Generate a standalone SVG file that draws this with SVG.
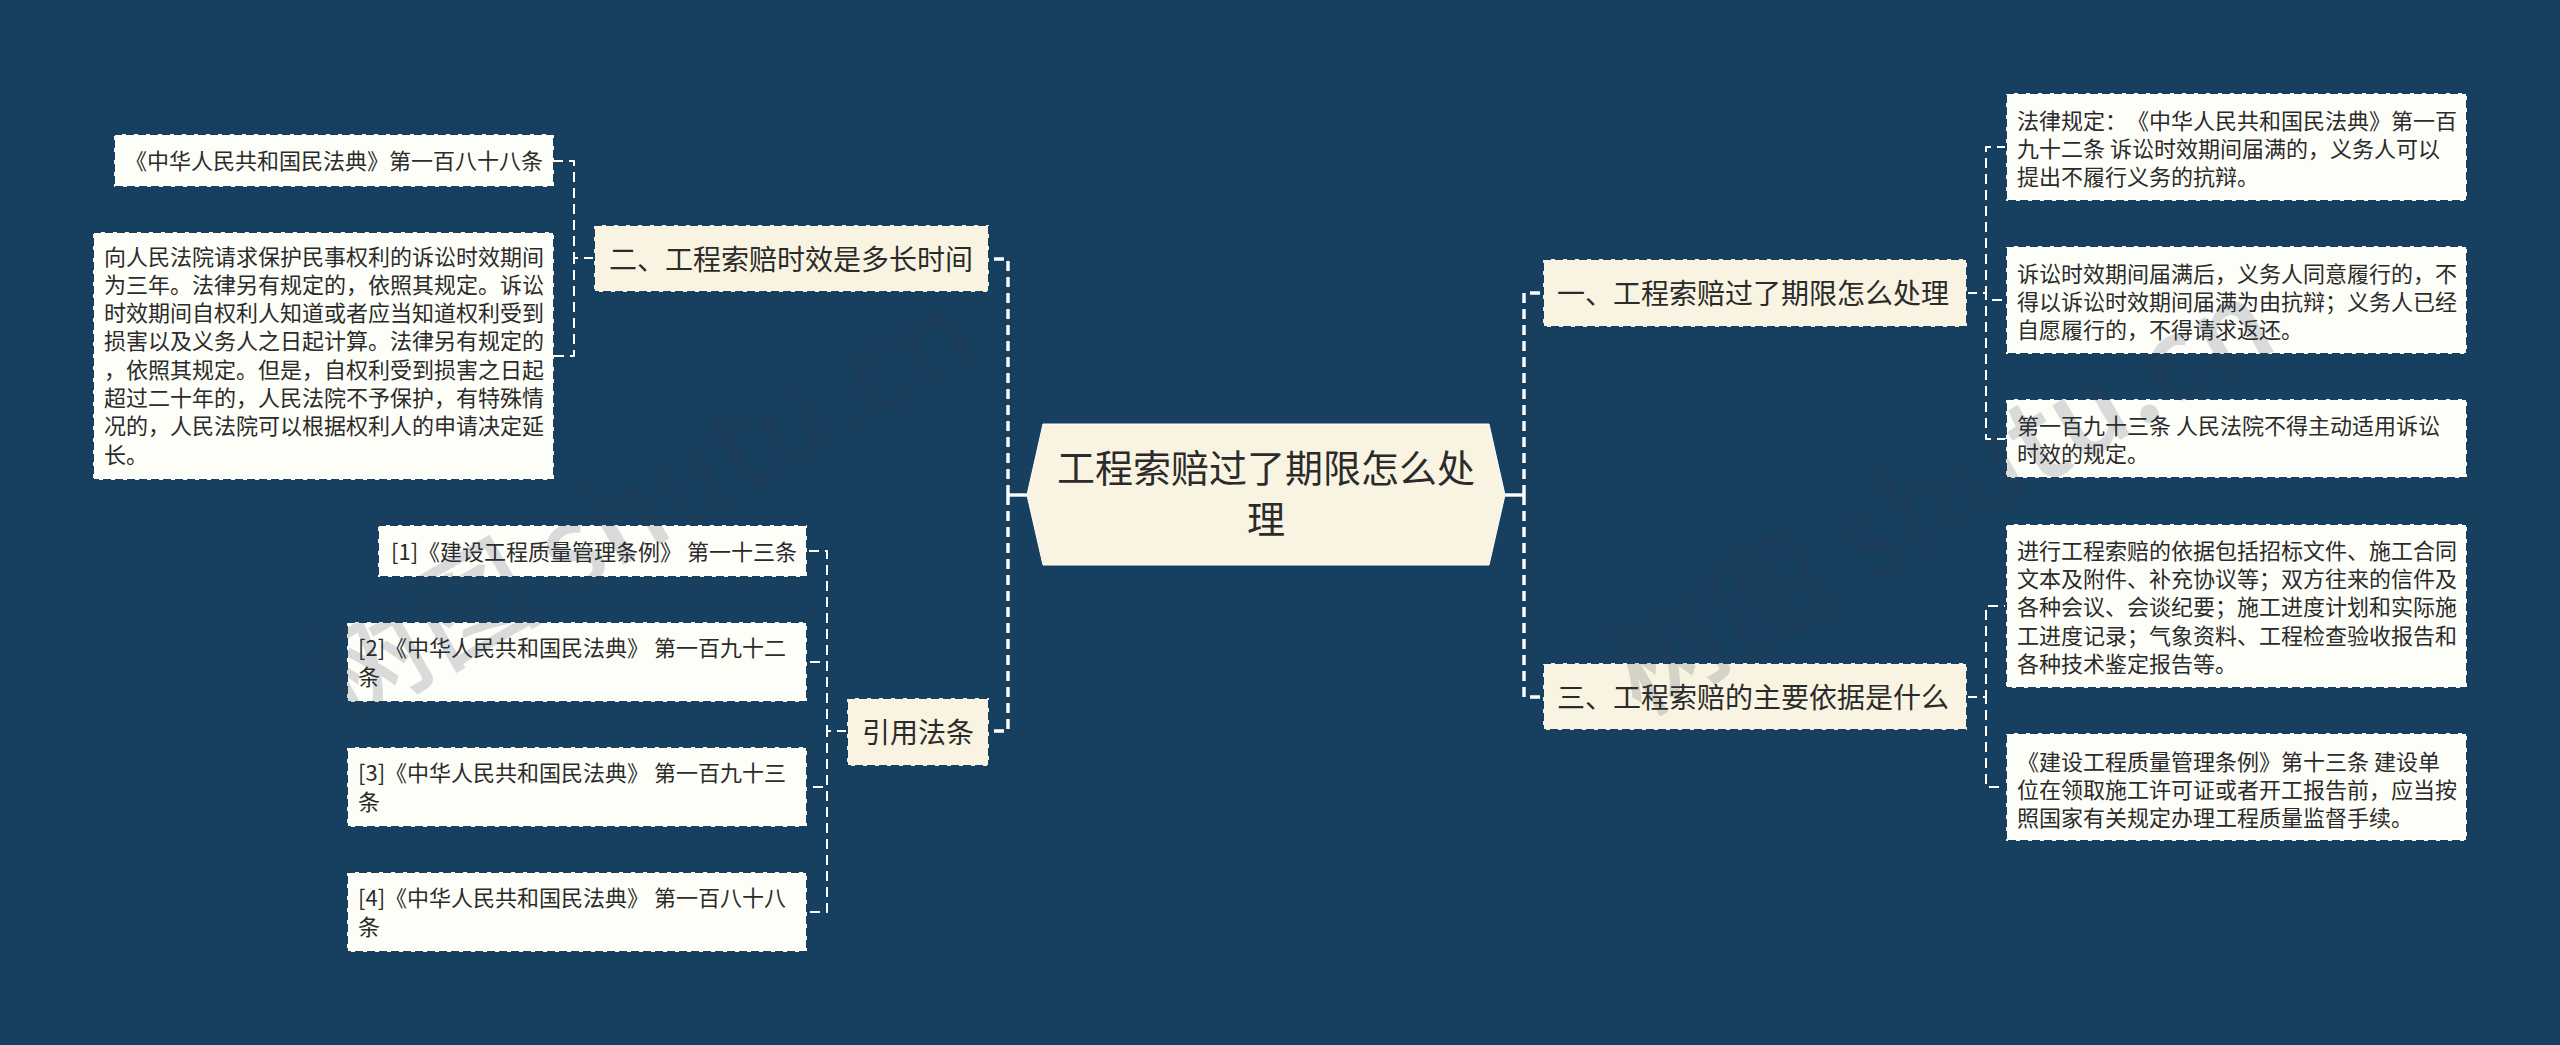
<svg xmlns="http://www.w3.org/2000/svg" width="2560" height="1045" viewBox="0 0 2560 1045">
<style>
text{font-family:"Noto Sans CJK SC","Noto Sans",sans-serif;fill:#2b2b2b;text-spacing-trim:space-all}
.leaf rect{fill:#fefef8;stroke:#173f5f;stroke-width:2;stroke-dasharray:8 4}
.branch rect{fill:#f9f4e1;stroke:#173f5f;stroke-width:2;stroke-dasharray:8 4}
.leaf text{font-size:22px}
.branch text{font-size:28px}
#root polygon{fill:#f9f4e1;stroke:#fff;stroke-width:1}
#root text{font-size:38px;text-anchor:middle}
#connectors path{fill:none;stroke:#fff;stroke-linejoin:round}
.c1{stroke-width:3.4;stroke-dasharray:10 6}
.c2{stroke-width:2;stroke-dasharray:10 6}
.c0{stroke-width:3.4}
.wm{font-size:116px;font-weight:500;fill:#2a3f55;fill-opacity:.18}
</style>
<rect width="2560" height="1045" fill="#173f5f"/>
<g id="connectors">
<path class="c0" d="M1505 495H1524"/>
<path class="c0" d="M1027 495H1008"/>
<path class="c1" d="M1524 495V293H1543"/>
<path class="c1" d="M1524 495V697H1543"/>
<path class="c1" d="M1008 495V259H989"/>
<path class="c1" d="M1008 495V731H988"/>
<path class="c2" d="M1967 293H1986V147H2006"/>
<path class="c2" d="M1967 293H1986V300H2006"/>
<path class="c2" d="M1967 293H1986V439H2006"/>
<path class="c2" d="M1967 697H1986V606H2006"/>
<path class="c2" d="M1967 697H1986V787H2006"/>
<path class="c2" d="M594 258H574V161H554"/>
<path class="c2" d="M594 258H574V356H554"/>
<path class="c2" d="M847 731H827V551H807"/>
<path class="c2" d="M847 731H827V662H807"/>
<path class="c2" d="M847 731H827V787H807"/>
<path class="c2" d="M847 731H827V912H807"/>
</g>
<g id="root">
<polygon points="1027,495 1043,424 1489,424 1505,495 1489,565 1043,565"/>
<text><tspan x="1266" y="482">工程索赔过了期限怎么处</tspan><tspan x="1266" y="533">理</tspan></text>
</g>
<g id="branch1" class="branch"><rect x="1543" y="259" width="424" height="68"/><text x="1557" y="304">一、工程索赔过了期限怎么处理</text></g>
<g id="branch3" class="branch"><rect x="1543" y="663" width="424" height="67"/><text x="1557" y="708">三、工程索赔的主要依据是什么</text></g>
<g id="branch2" class="branch"><rect x="594" y="225" width="395" height="67"/><text x="609" y="270">二、工程索赔时效是多长时间</text></g>
<g id="branch4" class="branch"><rect x="847" y="698" width="142" height="68"/><text x="862" y="743">引用法条</text></g>
<g id="leaf1" class="leaf"><rect x="2006" y="93" width="461" height="108"/><text><tspan x="2017" y="129">法律规定：《中华人民共和国民法典》第一百</tspan><tspan x="2017" y="157">九十二条 诉讼时效期间届满的，义务人可以</tspan><tspan x="2017" y="185">提出不履行义务的抗辩。</tspan></text></g>
<g id="leaf2" class="leaf"><rect x="2006" y="246" width="461" height="108"/><text><tspan x="2017" y="282">诉讼时效期间届满后，义务人同意履行的，不</tspan><tspan x="2017" y="310">得以诉讼时效期间届满为由抗辩；义务人已经</tspan><tspan x="2017" y="338">自愿履行的，不得请求返还。</tspan></text></g>
<g id="leaf3" class="leaf"><rect x="2006" y="399" width="461" height="79"/><text><tspan x="2017" y="434">第一百九十三条 人民法院不得主动适用诉讼</tspan><tspan x="2017" y="462">时效的规定。</tspan></text></g>
<g id="leaf4" class="leaf"><rect x="2006" y="524" width="461" height="164"/><text><tspan x="2017" y="559">进行工程索赔的依据包括招标文件、施工合同</tspan><tspan x="2017" y="587">文本及附件、补充协议等；双方往来的信件及</tspan><tspan x="2017" y="615">各种会议、会谈纪要；施工进度计划和实际施</tspan><tspan x="2017" y="644">工进度记录；气象资料、工程检查验收报告和</tspan><tspan x="2017" y="672">各种技术鉴定报告等。</tspan></text></g>
<g id="leaf5" class="leaf"><rect x="2006" y="733" width="461" height="108"/><text><tspan x="2017" y="770">《建设工程质量管理条例》第十三条 建设单</tspan><tspan x="2017" y="798">位在领取施工许可证或者开工报告前，应当按</tspan><tspan x="2017" y="826">照国家有关规定办理工程质量监督手续。</tspan></text></g>
<g id="leaf6" class="leaf"><rect x="114" y="134" width="440" height="53"/><text x="125" y="169">《中华人民共和国民法典》第一百八十八条</text></g>
<g id="leaf7" class="leaf"><rect x="93" y="232" width="461" height="248"/><text><tspan x="104" y="265">向人民法院请求保护民事权利的诉讼时效期间</tspan><tspan x="104" y="293">为三年。法律另有规定的，依照其规定。诉讼</tspan><tspan x="104" y="321">时效期间自权利人知道或者应当知道权利受到</tspan><tspan x="104" y="349">损害以及义务人之日起计算。法律另有规定的</tspan><tspan x="104" y="378">，依照其规定。但是，自权利受到损害之日起</tspan><tspan x="104" y="406">超过二十年的，人民法院不予保护，有特殊情</tspan><tspan x="104" y="434">况的，人民法院可以根据权利人的申请决定延</tspan><tspan x="104" y="463">长。</tspan></text></g>
<g id="ref1" class="leaf"><rect x="378" y="525" width="429" height="52"/><text x="391" y="560">[1]《建设工程质量管理条例》 第一十三条</text></g>
<g id="ref2" class="leaf"><rect x="347" y="622" width="460" height="80"/><text><tspan x="358" y="656">[2]《中华人民共和国民法典》 第一百九十二</tspan><tspan x="358" y="685">条</tspan></text></g>
<g id="ref3" class="leaf"><rect x="347" y="747" width="460" height="80"/><text><tspan x="358" y="781">[3]《中华人民共和国民法典》 第一百九十三</tspan><tspan x="358" y="810">条</tspan></text></g>
<g id="ref4" class="leaf"><rect x="347" y="872" width="460" height="80"/><text><tspan x="358" y="906">[4]《中华人民共和国民法典》 第一百八十八</tspan><tspan x="358" y="935">条</tspan></text></g>
<text class="wm" transform="translate(343 727) rotate(-30)">树图 shutu.cn</text>
<text class="wm" transform="translate(1640 717) rotate(-30)">树图 shutu.cn</text>
</svg>
